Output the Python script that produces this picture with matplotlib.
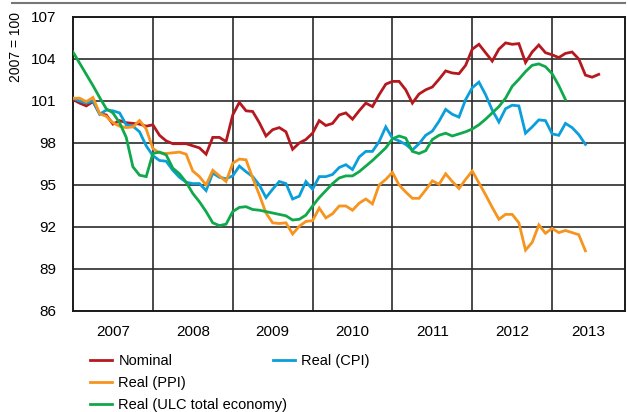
import numpy as np
import matplotlib
matplotlib.use("Agg")
import matplotlib.pyplot as plt
from matplotlib.lines import Line2D

plt.rcParams['font.family'] = ['Liberation Sans', 'DejaVu Sans']

# monthly index values, Jan 2007 onwards (2007 = 100)
nominal = [101.1, 100.85, 100.65, 100.95, 100.1, 100.0, 99.35, 99.6, 99.45, 99.4, 99.35, 99.2,
           99.3, 98.55, 98.15, 97.95, 97.95, 97.95, 97.8, 97.65, 97.2, 98.4, 98.4, 98.1,
           100.0, 100.9, 100.3, 100.25, 99.45, 98.5, 98.95, 99.1, 98.8, 97.55, 98.0, 98.25,
           98.7, 99.6, 99.25, 99.4, 100.0, 100.15, 99.7, 100.3, 100.85, 100.6, 101.45, 102.2,
           102.4, 102.4, 101.8, 100.85, 101.5, 101.8, 102.0, 102.55, 103.15, 103.0, 102.95, 103.55,
           104.7, 105.05, 104.45, 103.85, 104.7, 105.15, 105.05, 105.1, 103.75, 104.5, 105.0, 104.45,
           104.3, 104.1, 104.4, 104.5, 104.0, 102.85, 102.7, 102.9]
real_cpi = [101.2, 101.0, 100.85, 101.0, 100.05, 100.35, 100.3, 100.15, 99.3, 99.2, 98.8, 97.8,
            97.1, 96.75, 96.7, 96.05, 95.55, 95.2, 95.1, 95.1, 94.6, 95.85, 95.55, 95.45,
            95.65, 96.35, 95.95, 95.6, 95.0, 94.1, 94.7, 95.25, 95.1, 94.0, 94.2, 95.25,
            94.7, 95.6, 95.6, 95.75, 96.25, 96.45, 96.1, 97.0, 97.4, 97.4, 98.1, 99.15,
            98.35, 98.15, 97.9, 97.5, 97.95, 98.55, 98.85, 99.55, 100.4, 100.05, 99.85, 101.1,
            101.95, 102.35, 101.45, 100.35, 99.5, 100.45, 100.7, 100.65, 98.7, 99.15, 99.65, 99.6,
            98.65, 98.55, 99.4, 99.1, 98.6, 97.9]
real_ppi = [101.2, 101.2, 100.95, 101.25, 100.1, 99.9, 99.45, 99.2, 99.1, 99.15, 99.6, 99.0,
            97.6, 97.3, 97.25, 97.3, 97.35, 97.2, 96.0, 95.6, 95.0, 96.05, 95.65, 95.25,
            96.55, 96.85, 96.8, 95.5, 94.3, 93.0, 92.3, 92.25, 92.3, 91.5, 92.05, 92.4,
            92.45, 93.35, 92.65, 92.95, 93.5, 93.5, 93.2, 93.7, 94.0, 93.65, 95.0, 95.4,
            95.9, 95.0, 94.5, 94.05, 94.05, 94.65, 95.3, 95.05, 95.8, 95.25, 94.75, 95.4,
            96.0, 95.15, 94.3, 93.4, 92.55, 92.9, 92.9, 92.3, 90.35, 90.9, 92.15, 91.55,
            91.9, 91.6, 91.75, 91.6, 91.45, 90.3]
real_ulc = [104.5, 103.7, 102.9, 102.1, 101.25, 100.45, 100.15, 99.45, 98.4, 96.3, 95.7, 95.6,
            97.25, 97.35, 97.15, 96.2, 95.8, 95.2, 94.4, 93.8, 93.1, 92.3, 92.1, 92.2,
            93.1, 93.4, 93.45, 93.25, 93.2, 93.1, 93.0, 92.9, 92.8, 92.5, 92.55, 92.85,
            93.5, 94.1, 94.6, 95.1, 95.5, 95.65, 95.65, 95.95, 96.35, 96.75, 97.2, 97.65,
            98.3, 98.5, 98.35, 97.4, 97.25, 97.45, 98.25, 98.55, 98.7, 98.5, 98.65, 98.8,
            99.0, 99.3, 99.7, 100.15, 100.6, 101.2, 102.05, 102.55, 103.1, 103.55, 103.65, 103.45,
            102.95, 102.1, 101.1]

years = [2007, 2008, 2009, 2010, 2011, 2012, 2013]
yticks = [86, 89, 92, 95, 98, 101, 104, 107]

series = [
    ("Nominal", nominal, "#B5191F"),
    ("Real (CPI)", real_cpi, "#0A9FDB"),
    ("Real (PPI)", real_ppi, "#F7941D"),
    ("Real (ULC total economy)", real_ulc, "#0FA84B"),
]

fig = plt.figure(figsize=(6.28, 4.12), dpi=100)
ax = fig.add_axes([73 / 628, 1 - 311 / 412, 552 / 628, 294 / 412])

handles = {}
for name, vals, col in series:
    x = 2007 + np.arange(len(vals)) / 12
    ln, = ax.plot(x, vals, color=col, lw=2.0, solid_joinstyle='miter', zorder=3)
    handles[name] = ln

xmax = 2013 + 73 / 80
ax.set_xlim(2007, xmax)
ax.set_ylim(86, 107)

# year boundaries as grid lines, year names in between
ax.set_xticks(years[1:])
ax.set_xticklabels([])
centers = [y + 0.5 for y in years[:-1]] + [(2013 + xmax) / 2]
ax.set_xticks(centers, minor=True)
ax.set_xticklabels([str(y) for y in years], minor=True, fontsize=11)
ax.set_yticks(yticks)
ax.set_yticklabels([str(v) for v in yticks], fontsize=11)
ax.tick_params(axis='both', which='both', length=0)
ax.tick_params(axis='x', which='minor', pad=10)
ax.tick_params(axis='y', pad=12)

ax.grid(True, which='major', color='#2b2b2b', lw=1.2)
for s in ax.spines.values():
    s.set_color('#1a1a1a')
    s.set_linewidth(1.4)

fig.text(16 / 628, 1 - 47 / 412, "2007 = 100", rotation=90, ha='center', va='center', fontsize=10)

# top rule
fig.add_artist(Line2D([12 / 628, 625 / 628], [1 - 3 / 412, 1 - 3 / 412], color='#777777', lw=1.5))

# legend in two blocks
leg_kw = dict(loc='upper left', frameon=False, fontsize=10.5, handlelength=1.5,
              handletextpad=0.45, labelspacing=0.55, borderaxespad=0, borderpad=0)
fig.legend([handles["Nominal"], handles["Real (PPI)"], handles["Real (ULC total economy)"]],
           ["Nominal", "Real (PPI)", "Real (ULC total economy)"],
           bbox_to_anchor=(90 / 628, 1 - 354 / 412), **leg_kw)
fig.legend([handles["Real (CPI)"]], ["Real (CPI)"],
           bbox_to_anchor=(273 / 628, 1 - 354 / 412), **leg_kw)

fig.savefig("out.png", dpi=100)
